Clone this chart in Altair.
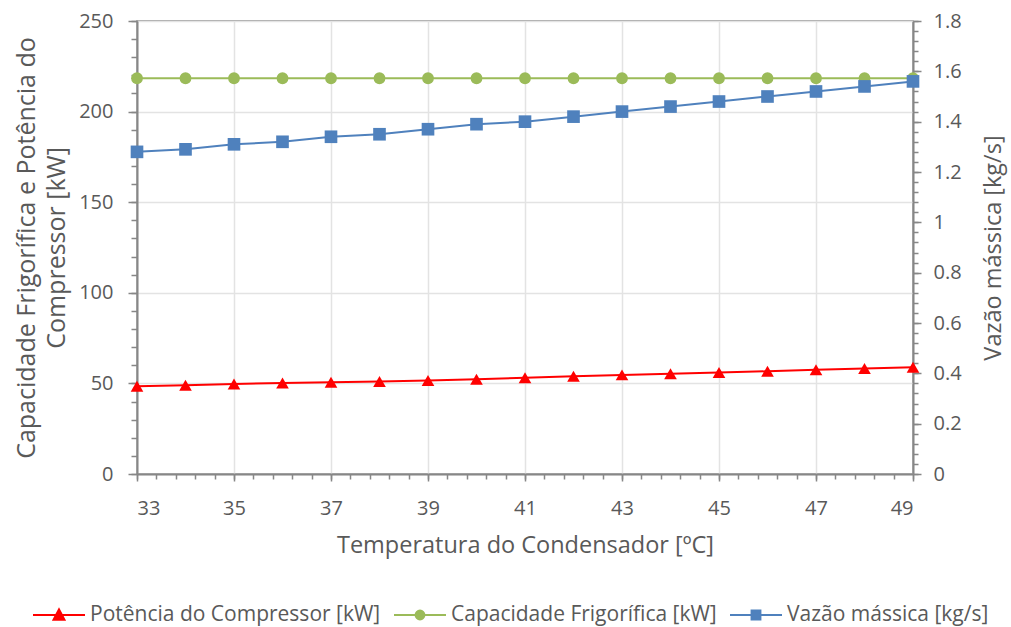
import altair as alt
import pandas as pd

# ---- data ----
temperatura = [33, 34, 35, 36, 37, 38, 39, 40, 41, 42, 43, 44, 45, 46, 47, 48, 49]
potencia = [48.4, 49.0, 49.7, 50.2, 50.6, 51.1, 51.6, 52.3, 53.1, 53.9, 54.7, 55.3, 56.0, 56.7, 57.5, 58.2, 58.9]
capacidade = [218.4, 218.4, 218.4, 218.4, 218.4, 218.4, 218.4, 218.4, 218.4,
              218.4, 218.4, 218.4, 218.4, 218.4, 218.4, 218.4, 218.4]
vazao = [1.28, 1.29, 1.31, 1.32, 1.34, 1.35, 1.37, 1.39, 1.40, 1.42, 1.44, 1.46, 1.48, 1.50, 1.52, 1.54, 1.56]

series_names = ["Potência do Compressor [kW]", "Capacidade Frigorífica [kW]", "Vazão mássica [kg/s]"]
series_colors = ["#FF0000", "#9BBB59", "#4F81BD"]

x_major = [33, 35, 37, 39, 41, 43, 45, 47, 49]
x_minor = [round(33 + 0.4 * i, 1) for i in range(41)]
yl_major = [0, 50, 100, 150, 200, 250]
yl_minor = list(range(0, 251, 10))
yr_major = [0, 0.2, 0.4, 0.6, 0.8, 1, 1.2, 1.4, 1.6, 1.8]
yr_minor = [round(0.04 * i, 2) for i in range(46)]

df = pd.DataFrame({"temp": temperatura, "pot": potencia, "cap": capacidade, "vaz": vazao})
legend_df = pd.DataFrame({"serie": series_names, "temp": [33, 33, 33], "valor": [0, 0, 0]})

FONT = "Open Sans"
TXT = "#595959"
AX = "#878787"
GRID = "#E3E3E3"
W, H = 776, 453

xscale = alt.Scale(domain=[33, 49], nice=False, zero=False)
ylscale = alt.Scale(domain=[0, 250], nice=False)
yrscale = alt.Scale(domain=[0, 1.8], nice=False)

base = alt.Chart(df)

x_major_axis = alt.Axis(orient="bottom", values=x_major, format="d", grid=True, gridColor=GRID,
                        gridWidth=1.5, tickSize=7, tickColor=AX, tickWidth=1.5, domainColor=AX,
                        domainWidth=2, labelFontSize=20, labelColor=TXT, labelFont=FONT, labelPadding=17,
                        title="Temperatura do Condensador [ºC]", titleFontSize=23.5, titleColor=TXT,
                        titleFont=FONT, titleFontWeight="normal", titlePadding=15)
x_minor_axis = alt.Axis(orient="bottom", values=x_minor, labels=False, grid=False, domain=False,
                        tickSize=5, tickColor=AX, tickWidth=1.5, title=None)

yl_major_axis = alt.Axis(orient="left", values=yl_major, format="d", grid=True, gridColor=GRID,
                         gridWidth=1.5, tickSize=9, tickColor=AX, tickWidth=1.5, domainColor=AX,
                         domainWidth=2, labelFontSize=20, labelColor=TXT, labelFont=FONT, labelPadding=15,
                         title=["Capacidade Frigorífica e Potência do", "Compressor [kW]"],
                         titleFontSize=25, titleColor=TXT, titleFont=FONT, titleFontWeight="normal",
                         titlePadding=9, titleLineHeight=30)
yl_minor_axis = alt.Axis(orient="left", values=yl_minor, labels=False, grid=False, domain=False,
                         tickSize=6, tickColor=AX, tickWidth=1.5, title=None)

yr_major_axis = alt.Axis(orient="right", values=yr_major, format="~g", grid=False, tickSize=8,
                         tickColor=AX, tickWidth=1.5, domainColor=AX, domainWidth=2,
                         labelFontSize=20, labelColor=TXT, labelFont=FONT, labelPadding=12,
                         title="Vazão mássica [kg/s]", titleAngle=270, titleFontSize=23.5, titleColor=TXT,
                         titleFont=FONT, titleFontWeight="normal", titleX=80, titleY=H / 2,
                         titleAlign="center", titleBaseline="middle")
yr_minor_axis = alt.Axis(orient="right", values=yr_minor, labels=False, grid=False, domain=False,
                         tickSize=5, tickColor=AX, tickWidth=1.5, title=None)

red = base.mark_line(color=series_colors[0], strokeWidth=2,
                     point=alt.OverlayMarkDef(shape="triangle-up", filled=True, size=160,
                                              color=series_colors[0], opacity=1)).encode(
    x=alt.X("temp:Q", scale=xscale, axis=x_major_axis),
    y=alt.Y("pot:Q", scale=ylscale, axis=yl_major_axis),
)

green = base.mark_line(color=series_colors[1], strokeWidth=2,
                       point=alt.OverlayMarkDef(shape="circle", filled=True, size=140,
                                                color=series_colors[1], opacity=1)).encode(
    x=alt.X("temp:Q", scale=xscale, axis=x_minor_axis),
    y=alt.Y("cap:Q", scale=ylscale, axis=yl_minor_axis),
)

blue = base.mark_line(color=series_colors[2], strokeWidth=2,
                      point=alt.OverlayMarkDef(shape="square", filled=True, size=160,
                                               color=series_colors[2], opacity=1)).encode(
    x=alt.X("temp:Q", scale=xscale, axis=None),
    y=alt.Y("vaz:Q", scale=yrscale, axis=yr_major_axis),
)

# legend symbols: line + marker as custom paths
legend_shapes = [
    "M-1,0L1,0M-0.21,0.18L0,-0.22L0.21,0.18Z",
    "M-1,0L1,0M0.17,0A0.17,0.17 0 1,1 -0.17,0A0.17,0.17 0 1,1 0.17,0Z",
    "M-1,0L1,0M-0.17,-0.17L0.17,-0.17L0.17,0.17L-0.17,0.17Z",
]
leg = alt.Legend(title=None, orient="none", direction="horizontal", legendX=-105, legendY=567,
                 labelFont=FONT, labelFontSize=21, labelColor=TXT, labelLimit=500, symbolSize=2704,
                 symbolStrokeWidth=2, symbolOpacity=1, labelOffset=4, columnPadding=9)

legend_layer = alt.Chart(legend_df).transform_filter("datum.valor > 1000").mark_point(
    filled=True).encode(
    x=alt.X("temp:Q", scale=xscale, axis=None),
    y=alt.Y("valor:Q", scale=yrscale, axis=yr_minor_axis),
    fill=alt.Fill("serie:N", scale=alt.Scale(domain=series_names, range=series_colors), legend=leg),
    stroke=alt.Stroke("serie:N", scale=alt.Scale(domain=series_names, range=series_colors), legend=leg),
    shape=alt.Shape("serie:N", scale=alt.Scale(domain=series_names, range=legend_shapes), legend=leg),
)

chart = alt.layer(red, green, blue, legend_layer).resolve_scale(
    y="independent"
).resolve_axis(
    x="independent", y="independent"
).properties(
    width=W, height=H,
    padding={"left": 14, "top": 11, "right": 5, "bottom": 5},
).configure_view(
    stroke=AX, strokeWidth=1.5
)

chart.save("out.html", embed_options={"renderer": "svg", "actions": False})
